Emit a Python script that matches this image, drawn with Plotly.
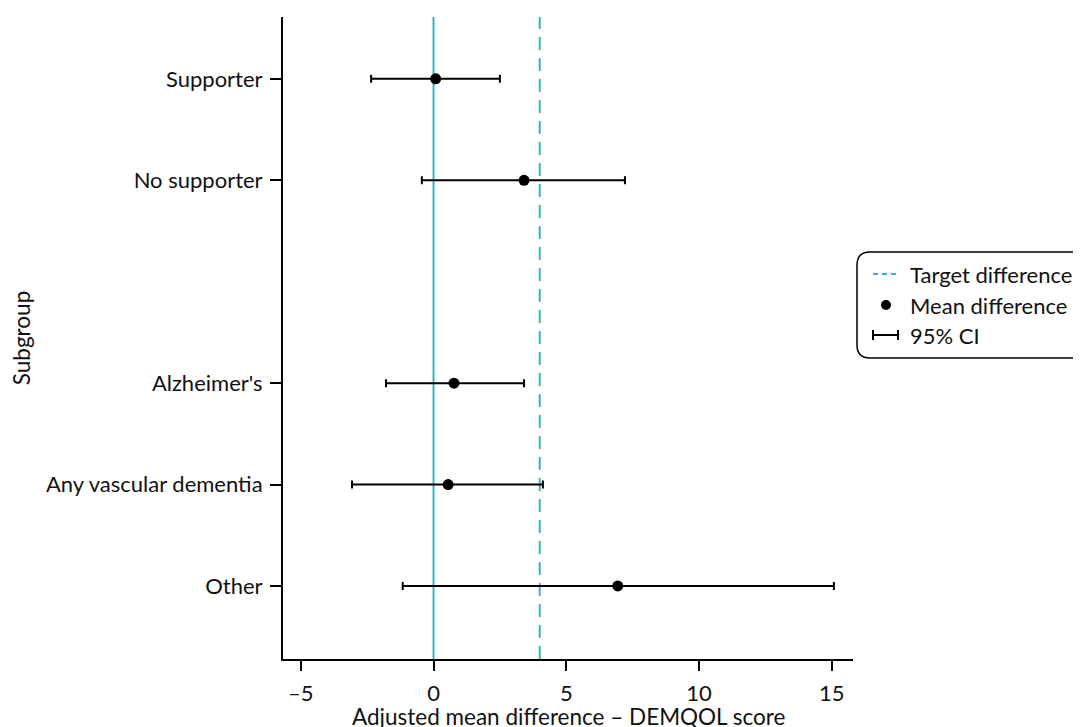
import plotly.graph_objects as go

# ---- data ----
subgroups = ["Supporter", "No supporter", "Alzheimer's", "Any vascular dementia", "Other"]
y_pos = [0, 1, 3, 4, 5]
mean_diff = [0.08, 3.41, 0.77, 0.55, 6.94]
ci_low = [-2.35, -0.44, -1.79, -3.07, -1.16]
ci_high = [2.50, 7.21, 3.41, 4.12, 15.08]
target_difference = 4
x_tickvals = [-5, 0, 5, 10, 15]
x_ticktext = ["–5", "0", "5", "10", "15"]
legend_labels = ["Target difference", "Mean difference", "95% CI"]
x_title = "Adjusted mean difference – DEMQOL score"
y_title = "Subgroup"

# ---- style ----
OFF = 8  # default body margin of the html page
W, H = 1081 - OFF, 727 - OFF
# plot area in page pixels, converted to figure pixels
L, R, T, B = 283 - OFF, 853 - OFF, 17 - OFF, 659 - OFF
TEAL = "#3bb3be"
FONT = "Lato, 'Open Sans', sans-serif"
FS_TICK = 22
FS_TITLE = 22.5
FS_LEG = 22


def px(xp):  # page pixel -> paper x
    return (xp - OFF - L) / (R - L)


def py(yp):  # page pixel -> paper y
    return (B - (yp - OFF)) / (B - T)


fig = go.Figure()

fig.add_trace(go.Scatter(
    x=mean_diff, y=y_pos, mode="markers",
    marker=dict(color="black", size=11),
    error_x=dict(type="data", symmetric=False,
                 array=[h - m for h, m in zip(ci_high, mean_diff)],
                 arrayminus=[m - l for l, m in zip(ci_low, mean_diff)],
                 color="black", thickness=2, width=4),
    showlegend=False, cliponaxis=False,
))

shapes = []
shapes.append(dict(type="line", xref="x", yref="paper", x0=0, x1=0, y0=0, y1=1,
                   line=dict(color=TEAL, width=2), layer="below"))
shapes.append(dict(type="line", xref="x", yref="paper", x0=target_difference, x1=target_difference,
                   y0=0, y1=1, line=dict(color=TEAL, width=2, dash="13px,8px"), layer="below"))

# custom legend box with rounded corners (page pixels)
bx0, bx1, by0, by1, r = 857, 1100, 252, 358, 13
path = (f"M {px(bx0 + r)},{py(by0)} L {px(bx1 - r)},{py(by0)} "
        f"Q {px(bx1)},{py(by0)} {px(bx1)},{py(by0 + r)} "
        f"L {px(bx1)},{py(by1 - r)} Q {px(bx1)},{py(by1)} {px(bx1 - r)},{py(by1)} "
        f"L {px(bx0 + r)},{py(by1)} Q {px(bx0)},{py(by1)} {px(bx0)},{py(by1 - r)} "
        f"L {px(bx0)},{py(by0 + r)} Q {px(bx0)},{py(by0)} {px(bx0 + r)},{py(by0)} Z")
shapes.append(dict(type="path", xref="paper", yref="paper", path=path,
                   line=dict(color="black", width=1.5), fillcolor="white"))

leg_y = [274, 305, 335]
sx0, sx1 = 873, 898
shapes.append(dict(type="line", xref="paper", yref="paper",
                   x0=px(sx0), x1=px(sx1), y0=py(leg_y[0]), y1=py(leg_y[0]),
                   line=dict(color=TEAL, width=2, dash="5px,4px")))
cx, rr = 886, 5
shapes.append(dict(type="circle", xref="paper", yref="paper",
                   x0=px(cx - rr), x1=px(cx + rr), y0=py(leg_y[1] + rr), y1=py(leg_y[1] - rr),
                   fillcolor="black", line=dict(color="black", width=0)))
shapes.append(dict(type="line", xref="paper", yref="paper",
                   x0=px(sx0), x1=px(sx1), y0=py(leg_y[2]), y1=py(leg_y[2]),
                   line=dict(color="black", width=2)))
for xx in (sx0, sx1):
    shapes.append(dict(type="line", xref="paper", yref="paper",
                       x0=px(xx), x1=px(xx), y0=py(leg_y[2] - 5), y1=py(leg_y[2] + 5),
                       line=dict(color="black", width=2)))

annotations = []
for lab, yy in zip(legend_labels, leg_y):
    annotations.append(dict(xref="paper", yref="paper", x=px(908), y=py(yy),
                            text=lab, showarrow=False, xanchor="left", yanchor="middle",
                            font=dict(family=FONT, size=FS_LEG, color="#111")))
# x axis title
annotations.append(dict(xref="paper", yref="paper", x=0.5, y=py(717),
                        text=x_title, showarrow=False, xanchor="center", yanchor="middle",
                        font=dict(family=FONT, size=FS_TITLE, color="#111")))

fig.update_layout(
    width=W, height=H,
    margin=dict(l=L, r=W - R, t=T, b=H - B, autoexpand=False),
    plot_bgcolor="white", paper_bgcolor="white",
    font=dict(family=FONT, size=FS_TICK, color="#111"),
    shapes=shapes, annotations=annotations,
    showlegend=False,
    xaxis=dict(range=[-5.67, 15.8], tickvals=x_tickvals, ticktext=x_ticktext,
               showgrid=False, zeroline=False, showline=True, linecolor="black", linewidth=2,
               ticks="outside", ticklen=10, tickwidth=2, tickcolor="black",
               ticklabelstandoff=4,
               automargin=False),
    yaxis=dict(range=[5.72, -0.61], tickvals=y_pos, ticktext=subgroups,
               showgrid=False, zeroline=False, showline=True, linecolor="black", linewidth=2,
               ticks="outside", ticklen=11, tickwidth=2, tickcolor="black",
               ticklabelstandoff=3,
               title=dict(text=y_title, standoff=12, font=dict(size=FS_TITLE)),
               automargin=False),
)

fig.write_html("out.html")
